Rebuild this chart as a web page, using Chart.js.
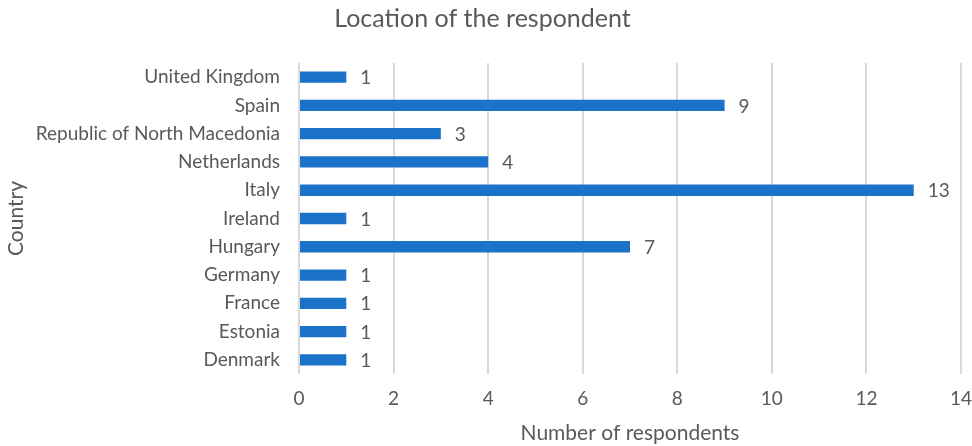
<!DOCTYPE html>
<html>
<head>
<meta charset="utf-8">
<script src="https://cdn.jsdelivr.net/npm/chart.js@4/dist/chart.umd.min.js"></script>
<style>
  html, body { margin: 0; padding: 0; background: #fff; }
  #wrap { width: 972px; height: 446px; }
</style>
</head>
<body>
<div id="wrap"><canvas id="myChart"></canvas></div>
<script>
const countries = [
    'United Kingdom',
    'Spain',
    'Republic of North Macedonia',
    'Netherlands',
    'Italy',
    'Ireland',
    'Hungary',
    'Germany',
    'France',
    'Estonia',
    'Denmark'
];
const respondents = [1, 9, 3, 4, 13, 1, 7, 1, 1, 1, 1];
const xTicks = [0, 2, 4, 6, 8, 10, 12, 14];

const textColor = '#595959';
const fontFamily = 'Lato, "Open Sans", sans-serif';

// numbers at the end of each bar
const barLabels = {
    id: 'barLabels',
    afterDatasetsDraw(chart) {
        const ctx = chart.ctx;
        const meta = chart.getDatasetMeta(0);
        ctx.save();
        ctx.fillStyle = textColor;
        ctx.font = '19px ' + fontFamily;
        ctx.textAlign = 'left';
        ctx.textBaseline = 'middle';
        meta.data.forEach((bar, i) => {
            ctx.fillText(String(respondents[i]), bar.x + 14, bar.y + 1);
        });
        ctx.restore();
    }
};

const data = {
    labels: countries,
    datasets: [{
        label: 'Respondents',
        backgroundColor: '#1a73c8',
        borderColor: '#1a73c8',
        data: respondents,
        categoryPercentage: 1.0,
        barPercentage: 0.4
    }]
};

const config = {
    type: 'bar',
    data,
    options: {
        indexAxis: 'y',
        responsive: true,
        maintainAspectRatio: false,
        animation: false,
        layout: {
            padding: { top: 4, right: 11, bottom: 2, left: 4 }
        },
        plugins: {
            legend: { display: false },
            tooltip: { enabled: false },
            title: {
                display: true,
                text: 'Location of the respondent',
                color: textColor,
                font: { size: 25, family: fontFamily, weight: 'normal' },
                padding: { top: 0, bottom: 29 }
            }
        },
        scales: {
            x: {
                min: 0,
                max: 14,
                afterBuildTicks(axis) {
                    axis.ticks = xTicks.map(v => ({ value: v }));
                },
                afterFit(axis) {
                    axis.paddingLeft = 0;
                    axis.paddingRight = 0;
                },
                grid: { color: '#d9d9d9', lineWidth: 2, drawTicks: false },
                border: { display: false },
                ticks: {
                    color: textColor,
                    padding: 15,
                    font: { size: 19, family: fontFamily, lineHeight: 1.0 }
                },
                title: {
                    display: true,
                    text: 'Number of respondents',
                    color: textColor,
                    font: { size: 21, family: fontFamily, lineHeight: 1.0 },
                    padding: { top: 0, bottom: 0 }
                }
            },
            y: {
                afterFit(axis) {
                    axis.width = 295;
                },
                grid: { display: false, drawTicks: false },
                border: { display: false },
                ticks: {
                    color: textColor,
                    padding: 19,
                    font: { size: 19, family: fontFamily }
                },
                title: {
                    display: true,
                    text: 'Country',
                    color: textColor,
                    font: { size: 21, family: fontFamily },
                    padding: { top: 0, bottom: 0 }
                }
            }
        }
    },
    plugins: [barLabels]
};

var myChart = new Chart(
    document.getElementById('myChart'),
    config
);
</script>
</body>
</html>
